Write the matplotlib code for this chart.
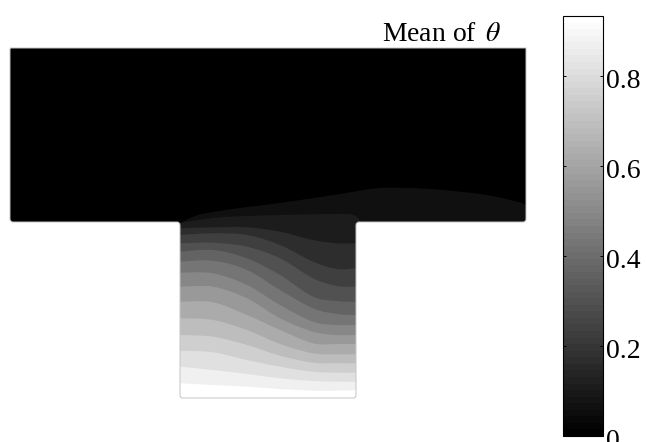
import matplotlib
matplotlib.use("Agg")
import matplotlib.pyplot as plt
from matplotlib.path import Path
from matplotlib.patches import PathPatch
from matplotlib.cm import ScalarMappable
from matplotlib.colors import Normalize
from matplotlib.transforms import ScaledTranslation

plt.rcParams['font.family'] = ['Liberation Serif', 'DejaVu Serif']
plt.rcParams['mathtext.fontset'] = 'stix'

# contour edges, in picture pixels
top_x = [176, 195, 213, 247, 280, 340, 380, 430, 480, 510, 526, 532]
top_y = [225, 216, 212, 207, 203, 194, 188, 189, 194, 200, 206, 224]
cap_x = [176, 180, 213, 247, 280, 313, 337, 352, 358, 363]
cap_y = [226, 223, 218, 216, 215, 214.3, 214, 214.5, 218, 224]

stem_x = [176, 180, 213, 247, 280, 313, 337, 356, 360]
stem_rows = [
    [228.5, 228.3, 227.3, 227.3, 231.7, 240, 243.3, 243.3, 243.3],
    [235.3, 235, 233.3, 235, 245, 261.7, 269, 268.3, 268.3],
    [243.4, 243.3, 242.7, 246.7, 258.3, 278.3, 286, 286.7, 286.7],
    [252, 251.7, 250, 258.3, 275, 296.7, 301, 301.7, 301.7],
    [262, 261.7, 260.7, 270, 290, 308.3, 314, 315, 315],
    [272.7, 272.7, 273.3, 285, 305, 321.7, 325, 325, 325],
    [286.7, 286.7, 286.7, 298.3, 318.3, 331.7, 335, 335, 335],
    [301.7, 301.7, 302.3, 315, 330, 343.3, 344, 344, 344],
    [318.3, 318.3, 320, 330, 344, 353.3, 354.3, 354.3, 354.3],
    [335, 335, 336.7, 345, 355.7, 362.7, 363.3, 363.3, 363.3],
    [350.7, 350.7, 352.3, 360, 366.7, 371.7, 372.7, 372.7, 372.7],
    [366.7, 366.7, 370, 374, 378.3, 381, 381.7, 381.7, 381.7],
    [383.3, 383.3, 385, 386.7, 389, 390.7, 390.7, 390, 390],
]

# grey of each band, from the top of the T down to the foot of the stem
band_greys = ['#101010', '#1c1c1c', '#2d2d2d', '#3f3f3f', '#515151', '#636363', '#757575',
              '#878787', '#999999', '#ababab', '#bdbdbd', '#cfcfcf', '#e0e0e0', '#f0f0f0', '#ffffff']

bar_ticks = [0, 0.2, 0.4, 0.6, 0.8]
bar_labels = ['0', '0.2', '0.4', '0.6', '0.8']
theta_max = 0.933
title = r'Mean of $\,\theta$'


def t_shape():
    # outline of the T, small rounded corners
    v = [(10, 48), (526, 48), (526, 219), (526, 222), (523, 222), (359, 222), (356, 222), (356, 225),
         (356, 395), (356, 398), (353, 398), (183, 398), (180, 398), (180, 395), (180, 225), (180, 222),
         (177, 222), (13, 222), (10, 222), (10, 219), (10, 48)]
    c = [Path.MOVETO, Path.LINETO, Path.LINETO, Path.CURVE3, Path.CURVE3, Path.LINETO, Path.CURVE3, Path.CURVE3,
         Path.LINETO, Path.CURVE3, Path.CURVE3, Path.LINETO, Path.CURVE3, Path.CURVE3, Path.LINETO, Path.CURVE3,
         Path.CURVE3, Path.LINETO, Path.CURVE3, Path.CURVE3, Path.LINETO]
    return Path(v, c)


def band_below(xs, ys):
    # smooth curve through the read points, closed under the stem
    pts = list(zip(xs, ys))
    v = [pts[0]]
    c = [Path.MOVETO]
    for i in range(len(pts) - 1):
        p0 = pts[max(i - 1, 0)]
        p1 = pts[i]
        p2 = pts[i + 1]
        p3 = pts[min(i + 2, len(pts) - 1)]
        v += [(p1[0] + (p2[0] - p0[0]) / 6, p1[1] + (p2[1] - p0[1]) / 6),
              (p2[0] - (p3[0] - p1[0]) / 6, p2[1] - (p3[1] - p1[1]) / 6),
              p2]
        c += [Path.CURVE4, Path.CURVE4, Path.CURVE4]
    v += [(xs[-1], 405), (xs[0], 405), pts[0]]
    c += [Path.LINETO, Path.LINETO, Path.CLOSEPOLY]
    return Path(v, c)


fig = plt.figure(figsize=(6.46, 4.42), dpi=100)
ax = fig.add_axes([0, 0, 1, 1])
ax.set_xlim(0, 646)
ax.set_ylim(442, 0)
ax.axis('off')

shape = PathPatch(t_shape(), facecolor='black', edgecolor='none', zorder=1)
ax.add_patch(shape)

curves = [(top_x, top_y), (cap_x, cap_y)] + [(stem_x, r) for r in stem_rows]
for (xs, ys), grey in zip(curves, band_greys):
    band = PathPatch(band_below(xs, ys), facecolor=grey, edgecolor='none', zorder=2)
    ax.add_patch(band)
    band.set_clip_path(shape)

ax.add_patch(PathPatch(t_shape(), facecolor='none', edgecolor='#c4c4c4', linewidth=0.7, zorder=3))
ax.text(501, 41, title, fontsize=20, ha='right', va='baseline')

# colour bar
cax = fig.add_axes([563 / 646, 1 - 436 / 442, 40 / 646, 420 / 442])
sm = ScalarMappable(norm=Normalize(0, theta_max), cmap=plt.get_cmap('gray', 64))
cb = fig.colorbar(sm, cax=cax)
cb.set_ticks(bar_ticks)
cb.set_ticklabels(bar_labels)
cb.outline.set_linewidth(0.8)
cax.tick_params(axis='y', direction='in', length=2.5, width=0.7, left=True, right=True,
                labelsize=20, pad=2.5)
# labels hang a little below their ticks in the reference
shift = ScaledTranslation(0, -2.5 / 100, fig.dpi_scale_trans)
for lab in cax.get_yticklabels():
    lab.set_transform(lab.get_transform() + shift)

fig.savefig('out.png', dpi=100)
